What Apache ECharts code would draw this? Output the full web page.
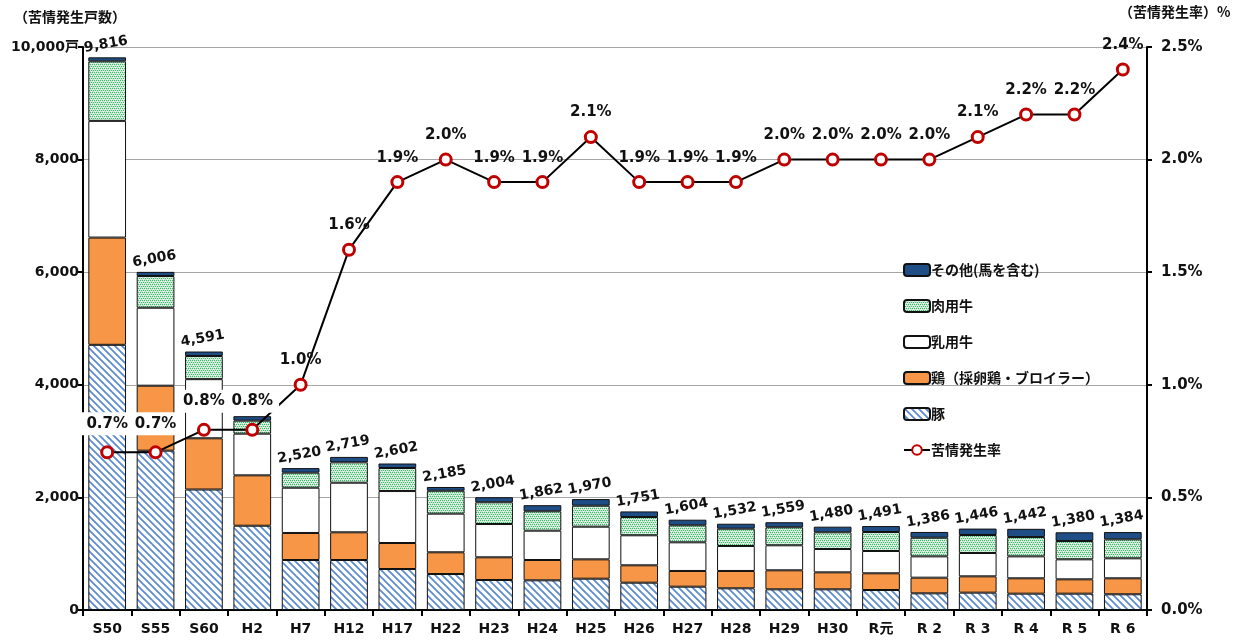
<!DOCTYPE html>
<html>
<head>
<meta charset="utf-8">
<script src="https://cdn.jsdelivr.net/npm/echarts@6/dist/echarts.min.js"></script>
<style>
  html, body { margin: 0; padding: 0; background: #fff; }
  #main { width: 1242px; height: 643px; }
</style>
</head>
<body>
<div id="main"></div>
<script>
// 年次
var years = ['S50','S55','S60','H2','H7','H12','H17','H22','H23','H24','H25','H26','H27','H28','H29','H30','R元','R 2','R 3','R 4','R 5','R 6'];
// 苦情発生戸数（合計）
var totals = [9816,6006,4591,3443,2520,2719,2602,2185,2004,1862,1970,1751,1604,1532,1559,1480,1491,1386,1446,1442,1380,1384];
// 畜種別
var pig     = [4710,2830,2140,1497,888,888,728,639,533,527,556,485,414,385,367,367,355,296,308,290,290,279];
var chicken = [1905,1154,910,895,480,492,462,386,403,361,344,309,279,308,338,302,297,278,290,273,255,284];
var dairy   = [2073,1385,1050,740,804,881,923,686,591,521,580,533,509,444,444,414,396,379,414,390,355,355];
var beef    = [1057,563,411,231,267,361,409,407,386,344,373,325,302,307,320,297,337,331,320,343,325,337];
// その他 = 合計 - 他畜種
var other = [];
for (var i = 0; i < totals.length; i++) {
    other.push(totals[i] - pig[i] - chicken[i] - dairy[i] - beef[i]);
}
// 苦情発生率(%)
var rate = [0.7,0.7,0.8,0.8,1.0,1.6,1.9,2.0,1.9,1.9,2.1,1.9,1.9,1.9,2.0,2.0,2.0,2.0,2.1,2.2,2.2,2.4];

var seriesNames = ['その他(馬を含む)','肉用牛','乳用牛','鶏（採卵鶏・ブロイラー）','豚','苦情発生率'];

// 斜線パターン（豚）
function makeStripe() {
    var c = document.createElement('canvas');
    c.width = 7; c.height = 7;
    var ctx = c.getContext('2d');
    ctx.fillStyle = '#ffffff';
    ctx.fillRect(0, 0, 7, 7);
    ctx.strokeStyle = '#5a8ad0';
    ctx.lineWidth = 1.7;
    ctx.beginPath();
    ctx.moveTo(-1, -1); ctx.lineTo(8, 8);
    ctx.moveTo(-8, -1); ctx.lineTo(1, 8);
    ctx.moveTo(6, -1); ctx.lineTo(15, 8);
    ctx.stroke();
    return c;
}
// 網点パターン（肉用牛）
function makeDots() {
    var c = document.createElement('canvas');
    c.width = 4; c.height = 4;
    var ctx = c.getContext('2d');
    ctx.fillStyle = '#c8ecd3';
    ctx.fillRect(0, 0, 4, 4);
    ctx.fillStyle = '#3cb46a';
    ctx.fillRect(0, 0, 1, 1); ctx.fillRect(2, 0, 1, 1);
    ctx.fillRect(1, 2, 1, 1); ctx.fillRect(3, 2, 1, 1);
    ctx.fillStyle = '#ffffff';
    ctx.fillRect(1, 1, 1, 1); ctx.fillRect(3, 3, 1, 1);
    return c;
}

var FONT = '"DejaVu Sans", "Noto Sans CJK JP", sans-serif';
var JFONT = '"Noto Sans CJK JP", "DejaVu Sans", sans-serif';

function barSeries(name, data, color) {
    return {
        name: name,
        type: 'bar',
        stack: 'total',
        barWidth: '78%',
        data: data,
        itemStyle: { color: color, borderColor: '#111', borderWidth: 1 },
        emphasis: { disabled: true }
    };
}

var myChart = echarts.init(document.getElementById('main'));

var sOther = barSeries(seriesNames[0], other, '#1f4e87');
sOther.label = {
    show: true,
    position: 'top',
    rotate: 10,
    distance: 6,
    fontFamily: FONT,
    fontWeight: 'bold',
    fontSize: 14,
    color: '#111',
    formatter: function (p) { return totals[p.dataIndex].toLocaleString('en-US'); }
};

// 棒と重なる最初の4点だけ白抜きラベル
var rateData = [];
for (var k = 0; k < rate.length; k++) {
    if (k < 4) {
        rateData.push({ value: rate[k], label: { backgroundColor: '#ffffff', padding: [4, 6, 4, 6] } });
    } else {
        rateData.push(rate[k]);
    }
}

option = {
    animation: false,
    backgroundColor: '#ffffff',
    grid: { left: 83, right: 95, top: 47, bottom: 33 },
    legend: {
        data: seriesNames,
        orient: 'vertical',
        left: 898,
        top: 258,
        itemWidth: 26,
        itemHeight: 12,
        itemGap: 22,
        textStyle: { fontFamily: JFONT, fontWeight: 'bold', fontSize: 14, color: '#111', padding: [0, 0, 0, -4] }
    },
    graphic: [
        { type: 'text', left: 14, top: 10, style: { text: '（苦情発生戸数）', font: 'bold 14px ' + JFONT, fill: '#111' } },
        { type: 'text', left: 1119, top: 5, style: { text: '（苦情発生率）%', font: 'bold 14px ' + JFONT, fill: '#111' } }
    ],
    xAxis: {
        type: 'category',
        data: years,
        axisLine: { lineStyle: { color: '#000', width: 2 } },
        axisTick: { show: true, length: 6, lineStyle: { color: '#000', width: 2 } },
        axisLabel: { fontFamily: FONT, fontWeight: 'bold', fontSize: 14, color: '#111', margin: 12 }
    },
    yAxis: [
        {
            type: 'value',
            min: 0, max: 10000, interval: 2000,
            axisLine: { show: true, lineStyle: { color: '#000', width: 2 } },
            axisTick: { show: true, length: 5, lineStyle: { color: '#000', width: 2 } },
            splitLine: { lineStyle: { color: '#a6a6a6', width: 1 } },
            axisLabel: {
                fontFamily: FONT, fontWeight: 'bold', fontSize: 14, color: '#111', margin: 4,
                formatter: function (v) { return v === 10000 ? '10,000戸' : v.toLocaleString('en-US'); }
            }
        },
        {
            type: 'value',
            min: 0, max: 2.5, interval: 0.5,
            axisLine: { show: true, lineStyle: { color: '#000', width: 2 } },
            axisTick: { show: true, length: 5, lineStyle: { color: '#000', width: 2 } },
            splitLine: { show: false },
            axisLabel: {
                fontFamily: FONT, fontWeight: 'bold', fontSize: 15, color: '#111', margin: 14,
                formatter: function (v) { return v.toFixed(1) + '%'; }
            }
        }
    ],
    series: [
        barSeries(seriesNames[4], pig, { image: makeStripe(), repeat: 'repeat' }),
        barSeries(seriesNames[3], chicken, '#f79646'),
        barSeries(seriesNames[2], dairy, '#ffffff'),
        barSeries(seriesNames[1], beef, { image: makeDots(), repeat: 'repeat' }),
        sOther,
        {
            name: seriesNames[5],
            type: 'line',
            yAxisIndex: 1,
            data: rateData,
            symbol: 'circle',
            symbolSize: 11,
            z: 10,
            lineStyle: { color: '#000', width: 2 },
            itemStyle: { color: '#ffffff', borderColor: '#c00000', borderWidth: 3 },
            label: {
                show: true,
                position: 'top',
                distance: 10,
                fontFamily: FONT,
                fontWeight: 'bold',
                fontSize: 15,
                color: '#111',
                formatter: function (p) { return p.value.toFixed(1) + '%'; }
            },
            emphasis: { disabled: true }
        }
    ]
};

myChart.setOption(option);
</script>
</body>
</html>
